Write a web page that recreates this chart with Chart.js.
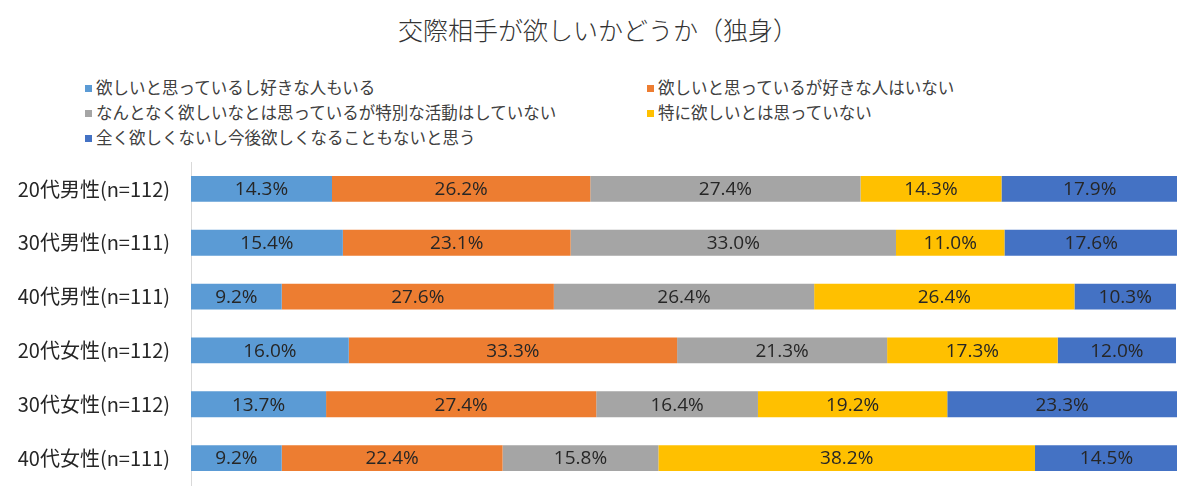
<!DOCTYPE html>
<html lang="ja">
<head>
<meta charset="utf-8">
<script src="https://cdn.jsdelivr.net/npm/chart.js@4/dist/chart.umd.min.js"></script>
<style>
  html, body { margin: 0; padding: 0; background: #fff; }
  #wrap { position: relative; width: 1200px; height: 499px; overflow: hidden; }
  #title {
    position: absolute; left: 0; top: 11px; width: 1196px; text-align: center;
    font-family: "Noto Sans CJK JP", sans-serif; font-size: 25px; font-weight: 300;
    color: #333; line-height: 36px;
  }
  #legend { position: absolute; left: 0; top: 0; width: 1200px; height: 160px; }
  .lg {
    position: absolute; font-family: "Noto Sans CJK JP", sans-serif; font-size: 16.5px;
    color: #404040; line-height: 20px; white-space: nowrap;
  }
  .lg i { display: inline-block; width: 7px; height: 7px; margin-right: 4px; vertical-align: 2px; }
  canvas { position: absolute; left: 0; top: 0; }
</style>
</head>
<body>
<div id="wrap">
  <div id="title">交際相手が欲しいかどうか（独身）</div>
  <div id="legend"></div>
  <canvas id="chart" width="1200" height="499"></canvas>
</div>
<script>
// カテゴリ
const groups = ['20代男性(n=112)', '30代男性(n=111)', '40代男性(n=111)', '20代女性(n=112)', '30代女性(n=112)', '40代女性(n=111)'];

// 回答ごとの割合(%)
const wantHasCrush   = [14.3, 15.4, 9.2, 16.0, 13.7, 9.2];
const wantNoCrush    = [26.2, 23.1, 27.6, 33.3, 27.4, 22.4];
const vagueNoAction  = [27.4, 33.0, 26.4, 21.3, 16.4, 15.8];
const notParticular  = [14.3, 11.0, 26.4, 17.3, 19.2, 38.2];
const neverWant      = [17.9, 17.6, 10.3, 12.0, 23.3, 14.5];

const answerLabels = [
    '欲しいと思っているし好きな人もいる',
    '欲しいと思っているが好きな人はいない',
    'なんとなく欲しいなとは思っているが特別な活動はしていない',
    '特に欲しいとは思っていない',
    '全く欲しくないし今後欲しくなることもないと思う'
];
const answerColors = ['#5B9BD5', '#ED7D31', '#A5A5A5', '#FFC000', '#4472C4'];
const answerValues = [wantHasCrush, wantNoCrush, vagueNoAction, notParticular, neverWant];

// バーの中に値を描く
const valueLabels = {
    id: 'valueLabels',
    afterDatasetsDraw(chart) {
        const ctx = chart.ctx;
        ctx.save();
        ctx.font = '19px "Open Sans", sans-serif';
        ctx.fillStyle = '#262626';
        ctx.textAlign = 'center';
        ctx.textBaseline = 'middle';
        chart.data.datasets.forEach((ds, i) => {
            chart.getDatasetMeta(i).data.forEach((bar, j) => {
                const left = Math.min(bar.x, bar.base);
                const right = Math.max(bar.x, bar.base);
                ctx.fillText(ds.data[j].toFixed(1) + '%', (left + right) / 2, bar.y + 1);
            });
        });
        ctx.restore();
    }
};

const ctx = document.getElementById('chart').getContext('2d');
const chart = new Chart(ctx, {
    type: 'bar',
    data: {
        labels: groups,
        datasets: answerLabels.map((label, i) => ({
            label: label,
            data: answerValues[i],
            backgroundColor: answerColors[i],
            borderWidth: 0,
            barPercentage: 0.48,
            categoryPercentage: 1.0
        }))
    },
    options: {
        indexAxis: 'y',
        responsive: false,
        animation: false,
        layout: { padding: { top: 162, bottom: 14, right: 23, left: 0 } },
        scales: {
            x: {
                stacked: true, min: 0, max: 100, display: false
            },
            y: {
                stacked: true,
                grid: { color: 'rgba(0,0,0,0)', drawTicks: true, tickLength: 21 },
                border: { display: true, color: '#D9D9D9', width: 1 },
                ticks: {
                    padding: 0,
                    color: '#262626',
                    font: { family: '"Noto Sans CJK JP", sans-serif', size: 20 }
                },
                afterFit(scale) { scale.width = 191; }
            }
        },
        plugins: {
            legend: { display: false },
            tooltip: { enabled: false }
        }
    },
    plugins: [valueLabels]
});

// 凡例 (2列)
const legendPos = [[85, 77], [647, 77], [85, 102], [647, 102], [85, 127]];
const legendBox = document.getElementById('legend');
chart.data.datasets.forEach((ds, i) => {
    const el = document.createElement('div');
    el.className = 'lg';
    el.style.left = legendPos[i][0] + 'px';
    el.style.top = legendPos[i][1] + 'px';
    el.innerHTML = '<i style="background:' + ds.backgroundColor + '"></i>' + ds.label;
    legendBox.appendChild(el);
});
</script>
</body>
</html>
